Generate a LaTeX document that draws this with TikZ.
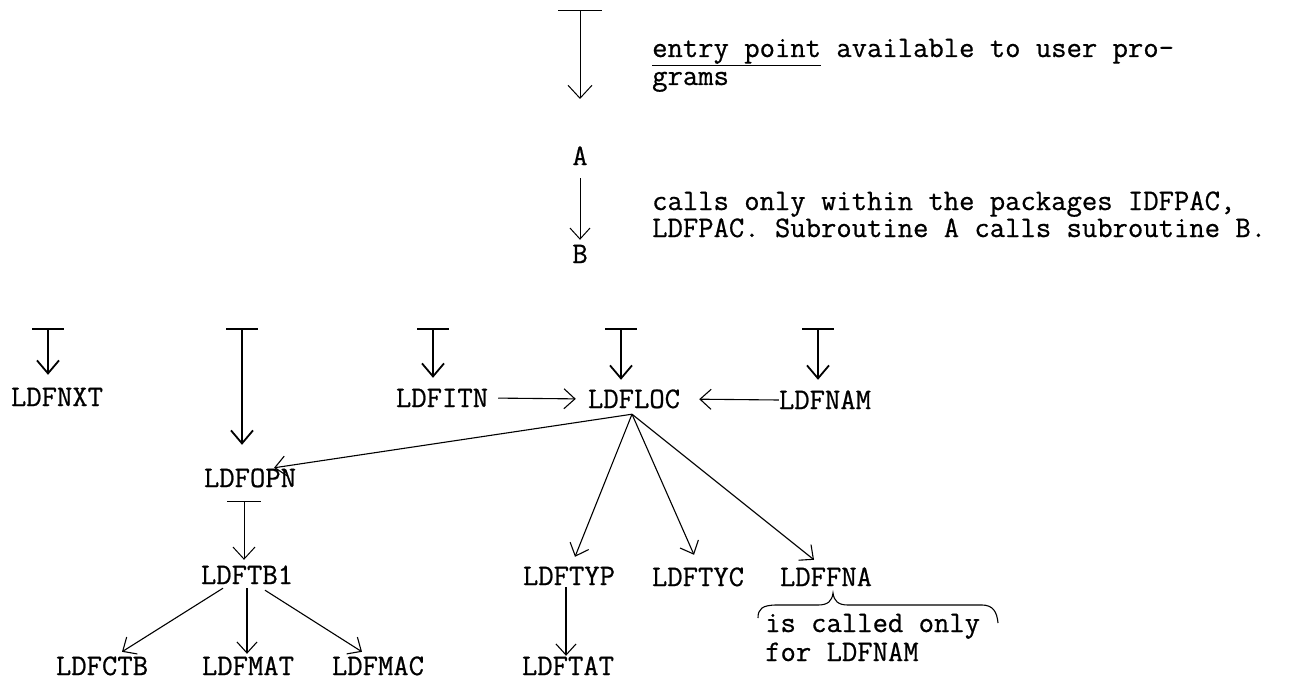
\documentclass[tikz,border=0pt]{standalone}
\usepackage{fontspec}
\usetikzlibrary{arrows.meta,calc}
\newfontfamily\myttfam{Latin Modern Mono}[FakeBold=0.7]
\newcommand\mytw{\fontsize{29.8}{34}\selectfont\myttfam}
\tikzset{
  lbl/.style={font=\mytw, inner sep=0pt, text height=18pt, text depth=0pt},
  txt/.style={font=\mytw, inner sep=0pt, anchor=base west},
  arr/.style={-{Straight Barb[length=11pt,width=20pt]}, line width=1.1pt},
  entry/.style={{Bar[width=32pt]}-{Straight Barb[length=13pt,width=22pt]}, line width=1.8pt},
  thinentry/.style={{Bar[width=44pt]}-{Straight Barb[length=13pt,width=24pt]}, line width=1pt},
  thinarr/.style={-{Straight Barb[length=11pt,width=20pt]}, line width=1pt},
}
\begin{document}
\begin{tikzpicture}[x=1pt,y=-1pt]
\useasboundingbox (0,0) rectangle (1306,682);

% legend
\coordinate (l0) at (580,10);
\coordinate (l1) at (580,99);
\draw[thinentry] (l0) -- (l1);
\node[txt] (t1) at (652,57) {\underline{entry point} available to user pro-};
\node[txt] (t2) at (652,85) {grams};
\node[lbl] (A) at (580,156) {A};
\node[lbl] (B) at (580,254) {B};
\draw[thinarr, shorten <=13pt, shorten >=5pt] (A.south) -- (B.north);
\node[txt] (t3) at (652,210) {calls only within the packages IDFPAC,};
\node[txt] (t4) at (652,237) {LDFPAC. Subroutine A calls subroutine B.};

% nodes
\node[lbl] (nxt) at (57,397) {LDFNXT};
\node[lbl] (opn) at (250,478) {LDFOPN};
\node[lbl] (itn) at (442,398) {LDFITN};
\node[lbl] (loc) at (634,399) {LDFLOC};
\node[lbl] (nam) at (825,400) {LDFNAM};
\node[lbl] (tb1) at (247,575) {LDFTB1};
\node[lbl] (ctb) at (102,666) {LDFCTB};
\node[lbl] (mat) at (248,666) {LDFMAT};
\node[lbl] (mac) at (378,666) {LDFMAC};
\node[lbl] (typ) at (569,576) {LDFTYP};
\node[lbl] (tyc) at (698,577) {LDFTYC};
\node[lbl] (fna) at (826,577) {LDFFNA};
\node[lbl] (tat) at (568,666) {LDFTAT};

% entry points
\coordinate (e1) at (48,328);
\coordinate (e2) at (242,328);
\coordinate (e3) at (433,328);
\coordinate (e4) at (621,328);
\coordinate (e5) at (818,328);
\coordinate (e6) at (244,501);
\draw[entry, shorten >=13pt] (e1) -- (e1 |- nxt.north);
\draw[entry, shorten >=24pt] (e2) -- (e2 |- opn.north);
\draw[entry, shorten >=11pt] (e3) -- (e3 |- itn.north);
\draw[entry, shorten >=10pt] (e4) -- (e4 |- loc.north);
\draw[entry, shorten >=11pt] (e5) -- (e5 |- nam.north);
\draw[thinentry, {Bar[width=34pt]}-{Straight Barb[length=12pt,width=22pt]}, shorten >=6pt] (e6) -- (e6 |- tb1.north);

% calls
\draw[arr, shorten <=10pt, shorten >=12pt] (itn.east) -- (loc.west);
\draw[arr, shorten >=19pt] (nam.west) -- (loc.east);
\coordinate (fan) at ($(loc.south)+(-2,6)$);
\draw[arr] (fan) -- ($(opn.north)+(24,-1)$);
\draw[arr] (fan) -- ($(typ.north)+(6,-10)$);
\draw[arr] (fan) -- ($(tyc.north)+(-4,-13)$);
\draw[arr] (fan) -- ($(fna.north)+(-12,-8)$);
\draw[arr] ($(tb1.south)+(-24,4)$) -- ($(ctb.north)+(20,-5)$);
\draw[arr] ($(tb1.south)+(0,4)$) -- ($(mat.north)+(-1,-3)$);
\draw[arr] ($(tb1.south)+(18,6)$) -- ($(mac.north)+(-16,-5)$);
\draw[arr] ($(typ.south)+(-3,2)$) -- ($(tat.north)+(-2,-1)$);

% brace and note
\draw[line width=1.1pt] (758,618) .. controls (758,609) and (762,605) .. (777,605) -- (818,605) .. controls (828,605) and (832,601) .. (833,593) .. controls (834,601) and (838,605) .. (848,605) -- (982,605) .. controls (993,605) and (997,612) .. (998,623);
\node[txt] (n1) at (765,632) {is called only};
\node[txt] (n2) at (765,661) {for LDFNAM};
\end{tikzpicture}
\end{document}
